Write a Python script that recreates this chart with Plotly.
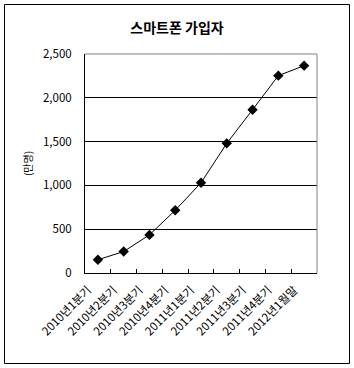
import plotly.graph_objects as go

categories = ["2010년1분기", "2010년2분기", "2010년3분기", "2010년4분기",
              "2011년1분기", "2011년2분기", "2011년3분기", "2011년4분기", "2012년1월말"]
subscribers = [151, 245, 435, 716, 1030, 1480, 1864, 2253, 2367]
y_ticks = [0, 500, 1000, 1500, 2000, 2500]

W, H = 354, 368
L, R, T, B = 85, 37, 54, 95
pw, ph = W - L - R, H - T - B

def px(x):
    return (x - L) / pw

def py(y):
    return (H - B - y) / ph

font = "Noto Sans CJK KR, Dotum, sans-serif"

fig = go.Figure()
fig.add_trace(go.Scatter(
    x=categories, y=subscribers, mode="lines+markers",
    line=dict(color="black", width=1),
    marker=dict(symbol="diamond", size=8, color="black"),
    showlegend=False, cliponaxis=False,
))

fig.update_layout(
    width=W, height=H,
    margin=dict(l=L, r=R, t=T, b=B),
    paper_bgcolor="white", plot_bgcolor="white",
    font=dict(family=font, color="black", size=11),
    title=dict(text="<b>스마트폰 가입자</b>", x=0.5, xanchor="center",
               y=1 - 28 / H, yanchor="middle", font=dict(size=14, family=font)),
    xaxis=dict(
        type="category", showline=True, linecolor="black", linewidth=1,
        showgrid=False, ticks="inside", ticklen=4, tickcolor="black",
        tickson="boundaries", tickangle=-45, tickfont=dict(size=11.5),
        range=[-0.5, len(categories) - 0.5], ticklabelshift=-10,
        ticklabelstandoff=5,
    ),
    yaxis=dict(
        range=[0, 2500], tickvals=y_ticks, tickformat=",",
        showline=True, linecolor="black", linewidth=1,
        showgrid=True, gridcolor="black", gridwidth=1, zeroline=False,
        ticks="", ticklabelstandoff=10, tickfont=dict(size=11.5),
        title=dict(text="(만명)", font=dict(size=10), standoff=8),
    ),
    shapes=[
        dict(type="line", xref="paper", yref="paper", x0=0, x1=1, y0=1, y1=1,
             line=dict(color="#808080", width=1), layer="above"),
        dict(type="line", xref="paper", yref="paper", x0=1, x1=1, y0=0, y1=1,
             line=dict(color="#808080", width=1), layer="above"),
        dict(type="rect", xref="paper", yref="paper",
             x0=px(4.5), x1=px(349.5), y0=py(363.5), y1=py(4.5),
             line=dict(color="black", width=1), layer="above"),
    ],
)

fig.write_html("out.html")
